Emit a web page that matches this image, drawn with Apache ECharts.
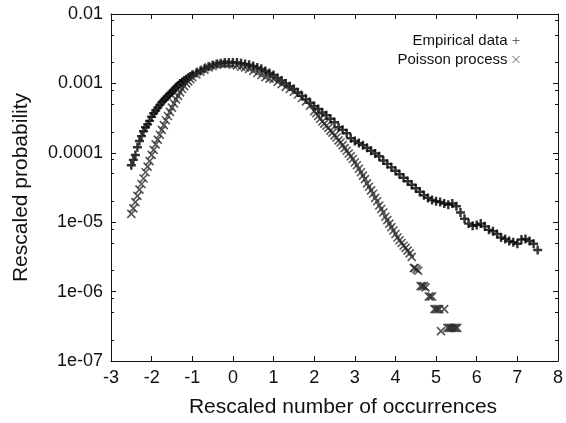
<!DOCTYPE html>
<html>
<head>
<meta charset="utf-8">
<script src="https://cdn.jsdelivr.net/npm/echarts@6/dist/echarts.min.js"></script>
<style>
html,body{margin:0;padding:0;background:#fff;}
#chart{width:566px;height:423px;}
</style>
</head>
<body>
<div id="chart"></div>
<script>
// ---- data ----
const seriesNames = ['Empirical data', 'Poisson process'];
const xTickValues = [-3, -2, -1, 0, 1, 2, 3, 4, 5, 6, 7, 8];
const yTickLabels = ['1e-07', '1e-06', '1e-05', '0.0001', '0.001', '0.01'];
const yMinorTicks = [2e-7, 5e-7, 8e-7, 2e-6, 5e-6, 8e-6, 2e-5, 5e-5, 8e-5, 2e-4, 5e-4, 8e-4, 2e-3, 5e-3, 8e-3];

const empX = [-2.5,-2.45,-2.4,-2.35,-2.3,-2.25,-2.2,-2.15,-2.1,-2.05,
  -2,-1.95,-1.9,-1.85,-1.8,-1.75,-1.7,-1.65,-1.6,-1.55,
  -1.5,-1.45,-1.4,-1.35,-1.3,-1.25,-1.2,-1.15,-1.1,-1.05,
  -1,-0.9,-0.8,-0.7,-0.6,-0.5,-0.4,-0.3,-0.2,-0.1,
  0,0.1,0.2,0.3,0.4,0.5,0.6,0.7,0.8,0.9,
  1,1.1,1.2,1.3,1.4,1.5,1.6,1.7,1.8,1.9,
  2,2.1,2.2,2.3,2.4,2.5,2.6,2.7,2.8,2.9,
  3,3.1,3.2,3.3,3.4,3.5,3.6,3.7,3.8,3.9,
  4,4.1,4.2,4.3,4.4,4.5,4.6,4.7,4.8,4.9,
  5,5.1,5.2,5.3,5.4,5.5,5.6,5.7,5.8,5.9,
  6,6.1,6.2,6.3,6.4,6.5,6.6,6.7,6.8,6.9,
  7,7.1,7.2,7.3,7.4,7.5];
const empP = [6.6e-5,7.9e-5,9.3e-5,1.2e-4,1.48e-4,1.74e-4,2.04e-4,2.34e-4,2.57e-4,2.88e-4,
  3.31e-4,3.72e-4,4.07e-4,4.47e-4,4.9e-4,5.37e-4,5.75e-4,6.17e-4,6.61e-4,7.08e-4,
  7.59e-4,8.13e-4,8.71e-4,9.33e-4,1.0e-3,1.05e-3,1.10e-3,1.15e-3,1.20e-3,1.26e-3,
  1.32e-3,1.41e-3,1.51e-3,1.62e-3,1.74e-3,1.82e-3,1.91e-3,1.95e-3,2.0e-3,2.0e-3,
  2.0e-3,2.0e-3,1.95e-3,1.91e-3,1.86e-3,1.78e-3,1.70e-3,1.62e-3,1.51e-3,1.41e-3,
  1.32e-3,1.20e-3,1.10e-3,1.0e-3,9.12e-4,8.32e-4,7.41e-4,6.61e-4,5.89e-4,5.25e-4,
  4.68e-4,4.27e-4,3.80e-4,3.47e-4,3.09e-4,2.75e-4,2.34e-4,2.14e-4,1.91e-4,1.62e-4,
  1.48e-4,1.38e-4,1.29e-4,1.18e-4,1.07e-4,9.77e-5,8.91e-5,7.76e-5,6.92e-5,6.17e-5,
  5.5e-5,4.9e-5,4.37e-5,3.89e-5,3.47e-5,3.09e-5,2.75e-5,2.45e-5,2.24e-5,2.09e-5,
  2.0e-5,1.95e-5,1.86e-5,1.78e-5,1.86e-5,1.70e-5,1.38e-5,1.12e-5,9.55e-6,8.91e-6,
  9.12e-6,9.55e-6,8.71e-6,7.76e-6,7.41e-6,6.76e-6,6.03e-6,5.75e-6,5.37e-6,5.13e-6,
  4.9e-6,5.62e-6,5.75e-6,5.37e-6,4.9e-6,3.98e-6];

const poiX = [-2.5,-2.45,-2.4,-2.35,-2.3,-2.25,-2.2,-2.15,-2.1,-2.05,
  -2,-1.95,-1.9,-1.85,-1.8,-1.75,-1.7,-1.65,-1.6,-1.55,
  -1.5,-1.45,-1.4,-1.35,-1.3,-1.25,-1.2,-1.15,-1.1,-1.05,
  -1,-0.9,-0.8,-0.7,-0.6,-0.5,-0.4,-0.3,-0.2,-0.1,
  0,0.1,0.2,0.3,0.4,0.5,0.6,0.7,0.8,0.9,
  1,1.1,1.2,1.3,1.4,1.5,1.6,1.7,1.8,1.9,
  2,2.05,2.1,2.15,2.2,2.25,2.3,2.35,2.4,2.45,
  2.5,2.55,2.6,2.65,2.7,2.75,2.8,2.85,2.9,2.95,
  3,3.05,3.1,3.15,3.2,3.25,3.3,3.35,3.4,3.45,
  3.5,3.55,3.6,3.65,3.7,3.75,3.8,3.85,3.9,3.95,
  4,4.05,4.1,4.15,4.2,4.25,4.3,4.35,4.4,
  4.45,4.48,4.52,4.56,4.62,4.66,4.7,4.74,4.82,4.86,4.9,
  4.96,5,5.04,5.08,5.12,5.2,5.28,5.32,5.36,5.4,5.44,5.48,5.52];
const poiP = [1.32e-5,1.58e-5,1.95e-5,2.40e-5,2.95e-5,3.55e-5,4.27e-5,5.25e-5,6.31e-5,7.59e-5,
  9.33e-5,1.10e-4,1.32e-4,1.55e-4,1.82e-4,2.14e-4,2.51e-4,2.95e-4,3.39e-4,3.89e-4,
  4.47e-4,5.13e-4,5.89e-4,6.61e-4,7.41e-4,8.32e-4,9.12e-4,1.0e-3,1.07e-3,1.15e-3,
  1.23e-3,1.35e-3,1.48e-3,1.58e-3,1.70e-3,1.78e-3,1.86e-3,1.91e-3,1.91e-3,1.91e-3,
  1.86e-3,1.82e-3,1.74e-3,1.70e-3,1.62e-3,1.51e-3,1.41e-3,1.32e-3,1.23e-3,1.17e-3,
  1.15e-3,1.05e-3,9.77e-4,8.91e-4,8.32e-4,7.59e-4,6.92e-4,6.17e-4,5.50e-4,4.79e-4,
  3.98e-4,3.72e-4,3.39e-4,3.09e-4,2.82e-4,2.63e-4,2.45e-4,2.29e-4,2.09e-4,1.95e-4,
  1.78e-4,1.66e-4,1.51e-4,1.41e-4,1.29e-4,1.17e-4,1.07e-4,9.77e-5,8.91e-5,8.13e-5,
  7.24e-5,6.61e-5,5.89e-5,5.25e-5,4.68e-5,4.17e-5,3.63e-5,3.24e-5,2.88e-5,2.57e-5,
  2.24e-5,2.0e-5,1.74e-5,1.55e-5,1.38e-5,1.20e-5,1.07e-5,9.55e-6,8.51e-6,7.59e-6,
  6.76e-6,6.03e-6,5.50e-6,5.01e-6,4.57e-6,4.27e-6,3.89e-6,3.55e-6,3.16e-6,
  2.19e-6,2.19e-6,2.09e-6,2.0e-6,1.2e-6,1.2e-6,1.2e-6,1.15e-6,8.5e-7,8.5e-7,8.5e-7,
  5.6e-7,5.6e-7,5.6e-7,5.6e-7,2.7e-7,5.6e-7,3.0e-7,3.0e-7,3.0e-7,3.0e-7,3.0e-7,3.0e-7,3.0e-7];

// ---- chart ----
const FONT = '"Liberation Sans", Arial, Helvetica, sans-serif';
const PLUS = 'path://M0,5L10,5M5,0L5,10';
const CROSS = 'path://M0,0L10,10M10,0L0,10';
const AX = '#111';

function pairs(xs, ys) { return xs.map((x, i) => [x, ys[i]]); }

const chart = echarts.init(document.getElementById('chart'), null, {renderer: 'canvas'});

const baseX = {
  type: 'value', min: xTickValues[0], max: xTickValues[xTickValues.length - 1], interval: 1,
  splitLine: {show: false},
  axisLine: {show: true, onZero: false, lineStyle: {color: AX, width: 1}},
  axisTick: {show: true, inside: true, length: 5, lineStyle: {color: AX, width: 1}}
};
const baseY = {
  type: 'log', logBase: 10, min: 1e-7, max: 1e-2,
  splitLine: {show: false},
  axisLine: {show: true, onZero: false, lineStyle: {color: AX, width: 1}},
  axisTick: {show: true, inside: true, length: 5, lineStyle: {color: AX, width: 1}}
};
const minorY = {
  axisLine: {show: false, onZero: false},
  axisLabel: {show: false},
  axisTick: {show: true, inside: true, length: 3, customValues: yMinorTicks, lineStyle: {color: AX, width: 1}}
};

const option = {
  animation: false,
  backgroundColor: '#fff',
  textStyle: {fontFamily: FONT},
  grid: {left: 111, right: 4, top: 14, bottom: 60, containLabel: false},
  legend: {
    orient: 'vertical', align: 'right', right: 41, top: 26,
    itemWidth: 7, itemHeight: 7, itemGap: 0,
    selectedMode: false,
    textStyle: {fontFamily: FONT, fontSize: 15, color: '#111', lineHeight: 19},
    data: [
      {name: seriesNames[0], icon: PLUS, itemStyle: {color: 'rgba(0,0,0,0)', borderColor: '#444', borderWidth: 1}},
      {name: seriesNames[1], icon: CROSS, itemStyle: {color: 'rgba(0,0,0,0)', borderColor: '#444', borderWidth: 1}}
    ]
  },
  xAxis: [
    Object.assign({}, baseX, {
      position: 'bottom',
      axisLabel: {show: true, fontFamily: FONT, fontSize: 18, color: '#111', margin: 8},
      name: 'Rescaled number of occurrences', nameLocation: 'middle', nameGap: 36,
      nameTextStyle: {fontFamily: FONT, fontSize: 21, color: '#111', padding: [0, 0, 0, 17]}
    }),
    Object.assign({}, baseX, {position: 'top', axisLabel: {show: false}})
  ],
  yAxis: [
    Object.assign({}, baseY, {
      position: 'left',
      axisLabel: {show: true, fontFamily: FONT, fontSize: 18, color: '#111', margin: 8,
        formatter: v => yTickLabels[Math.round(Math.log10(v)) + 7]},
      name: 'Rescaled probability', nameLocation: 'middle', nameGap: 79,
      nameTextStyle: {fontFamily: FONT, fontSize: 21, color: '#111'}
    }),
    Object.assign({}, baseY, {position: 'left'}, minorY),
    Object.assign({}, baseY, {position: 'right', axisLabel: {show: false}}),
    Object.assign({}, baseY, {position: 'right'}, minorY)
  ],
  series: [
    {
      name: seriesNames[0], type: 'scatter', xAxisIndex: 0, yAxisIndex: 0,
      symbol: PLUS, symbolSize: 9, silent: true,
      itemStyle: {color: 'rgba(0,0,0,0)', borderColor: '#000', borderWidth: 2.4},
      emphasis: {disabled: true},
      data: pairs(empX, empP)
    },
    {
      name: seriesNames[1], type: 'scatter', xAxisIndex: 0, yAxisIndex: 0,
      symbol: CROSS, symbolSize: 8, silent: true,
      itemStyle: {color: 'rgba(0,0,0,0)', borderColor: '#2a2a2a', borderWidth: 1.6},
      emphasis: {disabled: true},
      data: pairs(poiX, poiP)
    }
  ]
};
chart.setOption(option);
</script>
</body>
</html>
